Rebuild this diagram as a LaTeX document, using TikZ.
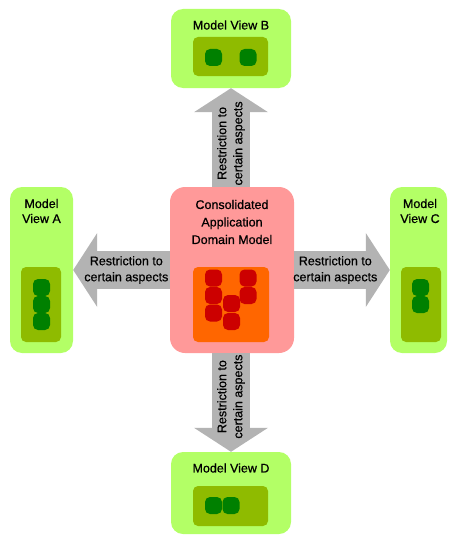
\documentclass[tikz,border=0pt]{standalone}
\usepackage{fontspec}
\setmainfont[RawFeature={embolden=0.7}]{Liberation Sans}
\usepackage{tikz}
\usetikzlibrary{positioning, arrows.meta, calc}
\definecolor{viewBg}{HTML}{b3ff66}
\definecolor{viewIn}{HTML}{8fbb00}
\definecolor{viewSq}{HTML}{008000}
\definecolor{domBg}{HTML}{ff9999}
\definecolor{domIn}{HTML}{ff6600}
\definecolor{domSq}{HTML}{cc0000}
\definecolor{flowGray}{HTML}{b3b3b3}
\newcommand{\restr}{Restriction to\\certain aspects}

\begin{document}
\begin{tikzpicture}[x=1pt, y=-1pt, font=\fontsize{12.5}{16}\selectfont,
  view/.style={fill=viewBg, rounded corners=12pt, inner sep=0pt},
  inbox/.style={fill=viewIn, rounded corners=5pt, inner sep=0pt},
  sq/.style={fill=viewSq, minimum width=17pt, minimum height=17pt, rounded corners=5pt, inner sep=0pt},
  rsq/.style={sq, fill=domSq},
  ttl/.style={align=center, inner sep=0pt},
  flow/.style={line width=38pt, draw=flowGray, -{Triangle[length=24pt, width=74pt, line width=0pt]}},
  ftxt/.style={align=center, inner sep=0pt}]
\useasboundingbox (0,0) rectangle (448,535);
% views and domain model
\node[view, minimum width=124pt, minimum height=166pt, fill=domBg, rounded corners=15pt] (cdm) at (232,270) {};
\node[view, minimum width=120pt, minimum height=79pt] (mvb) at (231,48.5) {};
\node[view, minimum width=63pt, minimum height=166pt] (mva) at (41.5,270) {};
\node[view, minimum width=57pt, minimum height=166pt] (mvc) at (418.5,270) {};
\node[view, minimum width=120pt, minimum height=82pt] (mvd) at (231,493) {};
% titles
\node[ttl] (tcdm) at (232,222) {Consolidated\\[1.5pt]Application\\[1.5pt]Domain Model};
\node[ttl] (tmvb) at (231,25) {Model View B};
\node[ttl] (tmva) at (41.5,211) {Model\\[-1pt]View A};
\node[ttl] (tmvc) at (420,211) {Model\\[-1pt]View C};
\node[ttl] (tmvd) at (231,468) {Model View D};
% inner boxes
\node[inbox, minimum width=76pt, minimum height=75pt, fill=domIn] (icdm) at (231,304.5) {};
\node[inbox, minimum width=75pt, minimum height=39pt] (imvb) at (230.5,56.5) {};
\node[inbox, minimum width=40pt, minimum height=75pt] (imva) at (41,304.5) {};
\node[inbox, minimum width=40pt, minimum height=75pt] (imvc) at (421,304.5) {};
\node[inbox, minimum width=75pt, minimum height=40pt] (imvd) at (230.5,506) {};
% elements
\node[rsq] (r1) at (213.5,278) {};
\node[rsq] (r2) at (213.5,295.5) {};
\node[rsq] (r3) at (213.5,313) {};
\node[rsq] (r4) at (231.5,303.5) {};
\node[rsq] (r5) at (231.5,321.5) {};
\node[rsq] (r6) at (248,278) {};
\node[rsq] (r7) at (248,295.5) {};
\node[sq] (b1) at (213.5,57.5) {};
\node[sq] (b2) at (248,57.5) {};
\node[sq] (a1) at (41.5,287.5) {};
\node[sq] (a2) at (41.5,304.5) {};
\node[sq] (a3) at (41.5,321.5) {};
\node[sq] (c1) at (420.5,287.5) {};
\node[sq] (c2) at (420.5,304.5) {};
\node[sq] (d1) at (213.5,505.5) {};
\node[sq] (d2) at (231,505.5) {};
% restriction arrows
\draw[flow] (cdm.west) -- (mva.east) node[pos=0.45, ftxt] {\restr};
\draw[flow] (cdm.east) -- (mvc.east -| mvc.west) node[pos=0.43, ftxt] {\restr};
\draw[flow] (mvb.south |- cdm.north) -- (mvb.south) node[pos=0.44, ftxt, rotate=90] {\restr};
\draw[flow] (mvd.north |- cdm.south) -- (mvd.north) node[pos=0.44, ftxt, rotate=90] {\restr};
\end{tikzpicture}
\end{document}
